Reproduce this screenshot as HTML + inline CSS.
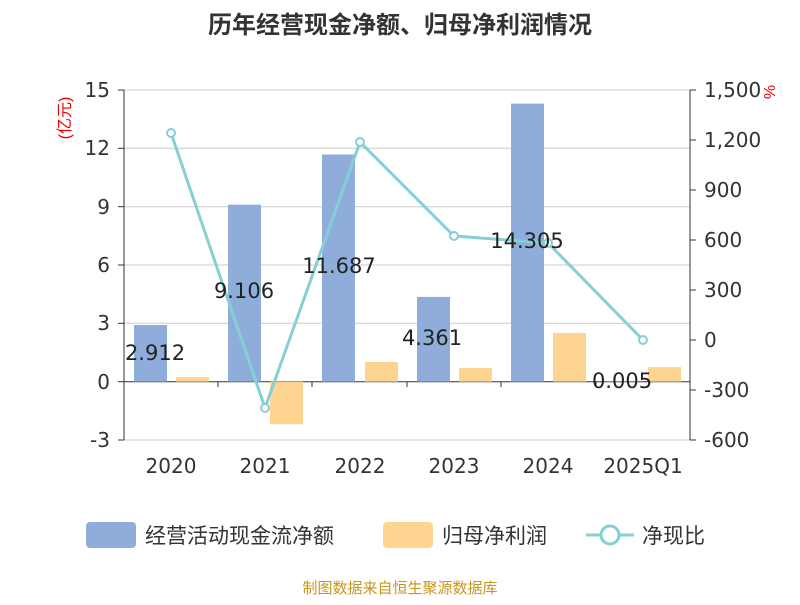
<!DOCTYPE html>
<html><head><meta charset="utf-8"><style>
body{margin:0;background:#fff;}
text{font-family:"Liberation Sans","Noto Sans CJK SC",sans-serif;}
.n text, text.n{font-family:"DejaVu Sans","Liberation Sans",sans-serif;}
</style></head><body>
<svg width="800" height="600" xmlns="http://www.w3.org/2000/svg">
<rect width="800" height="600" fill="#fff"/>
<text x="400" y="33" text-anchor="middle" font-size="24" font-weight="bold" fill="#333">历年经营现金净额、归母净利润情况</text>
<g stroke="#ccc" stroke-width="1">
<line x1="124" y1="90" x2="690" y2="90"/>
<line x1="124" y1="148.3" x2="690" y2="148.3"/>
<line x1="124" y1="206.7" x2="690" y2="206.7"/>
<line x1="124" y1="265" x2="690" y2="265"/>
<line x1="124" y1="323.3" x2="690" y2="323.3"/>
<line x1="124" y1="440" x2="690" y2="440"/>
</g>
<g stroke="#333" stroke-width="1">
<line x1="124" y1="90" x2="124" y2="440"/>
<line x1="690" y1="90" x2="690" y2="440"/>
<line x1="124" y1="381.7" x2="690" y2="381.7"/>
<line x1="118" y1="90" x2="124" y2="90"/><line x1="118" y1="148.3" x2="124" y2="148.3"/><line x1="118" y1="206.7" x2="124" y2="206.7"/><line x1="118" y1="265" x2="124" y2="265"/><line x1="118" y1="323.3" x2="124" y2="323.3"/><line x1="118" y1="381.7" x2="124" y2="381.7"/><line x1="118" y1="440" x2="124" y2="440"/>
<line x1="690" y1="90" x2="696" y2="90"/><line x1="690" y1="140" x2="696" y2="140"/><line x1="690" y1="190" x2="696" y2="190"/><line x1="690" y1="240" x2="696" y2="240"/><line x1="690" y1="290" x2="696" y2="290"/><line x1="690" y1="340" x2="696" y2="340"/><line x1="690" y1="390" x2="696" y2="390"/><line x1="690" y1="440" x2="696" y2="440"/>
<line x1="218" y1="381.7" x2="218" y2="387"/><line x1="312" y1="381.7" x2="312" y2="387"/><line x1="407" y1="381.7" x2="407" y2="387"/><line x1="501" y1="381.7" x2="501" y2="387"/><line x1="596" y1="381.7" x2="596" y2="387"/>
</g>
<g class="n" font-size="20" fill="#333" text-anchor="end">
<text x="110" y="97">15</text><text x="110" y="155">12</text><text x="110" y="214">9</text><text x="110" y="272">6</text><text x="110" y="330">3</text><text x="110" y="389">0</text><text x="110" y="447">-3</text>
</g>
<g class="n" font-size="20" fill="#333" text-anchor="start">
<text x="704" y="97">1,500</text><text x="704" y="147">1,200</text><text x="704" y="197">900</text><text x="704" y="247">600</text><text x="704" y="297">300</text><text x="704" y="347">0</text><text x="704" y="397">-300</text><text x="704" y="447">-600</text>
</g>
<text transform="translate(70,118) rotate(-90)" font-size="16" fill="#e00" text-anchor="middle">(亿元)</text>
<text transform="translate(764,92) rotate(90)" font-size="16" fill="#e00" text-anchor="middle">%</text>
<g class="n" font-size="20" fill="#333" text-anchor="middle">
<text x="171" y="473">2020</text><text x="265" y="473">2021</text><text x="360" y="473">2022</text><text x="454" y="473">2023</text><text x="548" y="473">2024</text><text x="643" y="473">2025Q1</text>
</g>
<g fill="#8eaddb">
<rect x="134" y="325" width="33" height="56.7"/>
<rect x="228" y="204.7" width="33" height="177"/>
<rect x="322" y="154.5" width="33" height="227.2"/>
<rect x="417" y="296.9" width="33" height="84.8"/>
<rect x="511" y="103.6" width="33" height="278.1"/>
<rect x="606" y="381" width="33" height="0.7"/>
</g>
<g fill="#fdd591">
<rect x="176" y="377" width="33" height="4.7"/>
<rect x="270" y="381.7" width="33" height="42.5"/>
<rect x="365" y="362" width="33" height="19.7"/>
<rect x="459" y="368" width="33" height="13.7"/>
<rect x="553" y="333" width="33" height="48.7"/>
<rect x="648" y="367" width="33" height="14.7"/>
</g>
<polyline points="171,133 265,408 360,142 454,236 548,243 643,340" fill="none" stroke="#85d0d5" stroke-width="3"/>
<g fill="#fff" stroke="#85d0d5" stroke-width="2">
<circle cx="171" cy="133" r="4"/><circle cx="265" cy="408" r="4"/><circle cx="360" cy="142" r="4"/><circle cx="454" cy="236" r="4"/><circle cx="548" cy="243" r="4"/><circle cx="643" cy="340" r="4"/>
</g>
<g class="n" font-size="21" fill="#222" text-anchor="middle">
<text x="155" y="360">2.912</text><text x="244" y="298">9.106</text><text x="339" y="273">11.687</text><text x="432" y="345">4.361</text><text x="527" y="248">14.305</text><text x="622" y="388">0.005</text>
</g>
<rect x="86" y="522" width="50" height="26" rx="4" fill="#8eaddb"/>
<text x="145" y="543" font-size="21" fill="#333">经营活动现金流净额</text>
<rect x="383" y="522" width="50" height="26" rx="4" fill="#fdd591"/>
<text x="442" y="543" font-size="21" fill="#333">归母净利润</text>
<line x1="586" y1="535" x2="634" y2="535" stroke="#85d0d5" stroke-width="3"/>
<circle cx="610" cy="535" r="9" fill="#fff" stroke="#85d0d5" stroke-width="3"/>
<text x="642" y="543" font-size="21" fill="#333">净现比</text>
<text x="400" y="593" text-anchor="middle" font-size="15" fill="#c8961e">制图数据来自恒生聚源数据库</text>
</svg>
</body></html>
